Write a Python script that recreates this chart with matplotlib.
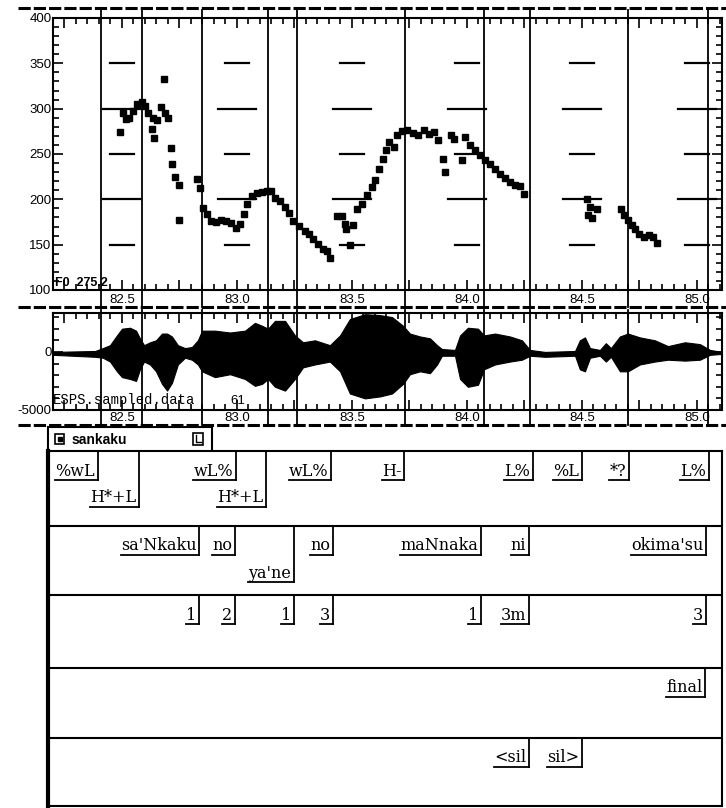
import numpy as np
import matplotlib.pyplot as plt
from matplotlib.patches import Rectangle

plt.rcParams['font.family'] = ['Liberation Sans', 'DejaVu Sans']

W, H = 726, 808

def box(x0, y0, x1, y1):
    # pixel box (top-left origin) -> figure fraction
    return [x0 / W, 1 - y1 / H, (x1 - x0) / W, (y1 - y0) / H]

# F0 track, seconds / Hz
f0_times = [82.491, 82.503, 82.517, 82.532, 82.546, 82.564, 82.586, 82.600, 82.614, 82.633,
            82.654, 82.668, 82.683, 82.687, 82.701, 82.629, 82.639, 82.712, 82.717, 82.730,
            82.749, 82.748, 82.827, 82.839, 82.853, 82.868, 82.887, 82.909, 82.929, 82.952,
            82.973, 82.996, 83.013, 83.030, 83.045, 83.064, 83.086, 83.107, 83.129, 83.147,
            83.165, 83.187, 83.209, 83.227, 83.245, 83.271, 83.296, 83.314, 83.332, 83.353,
            83.373, 83.390, 83.404,
            83.436, 83.455, 83.470, 83.474, 83.503, 83.491, 83.520, 83.542, 83.564, 83.586,
            83.600, 83.619, 83.636, 83.648, 83.662, 83.683, 83.694, 83.716, 83.740, 83.764,
            83.788, 83.813, 83.836, 83.857, 83.875, 83.897, 83.904, 83.929, 83.943, 83.977,
            83.991, 84.013, 84.035, 84.057, 84.078, 84.100, 84.122, 84.143, 84.165, 84.187,
            84.209, 84.230, 84.248,
            84.523, 84.535, 84.564, 84.527, 84.542,
            84.668, 84.683, 84.701, 84.716, 84.730, 84.749, 84.770, 84.793, 84.807, 84.825]
f0_vals = [274.6, 295.6, 288.2, 290.0, 297.4, 304.8, 307.7, 303.0, 295.6, 290.0,
           288.0, 301.8, 332.4, 295.6, 290.0, 277.2, 268.0, 256.3, 239.3, 225.0,
           215.8, 176.8, 222.0, 212.9, 190.8, 183.5, 176.1, 175.4, 176.8, 176.1,
           174.3, 168.8, 172.4, 183.5, 194.5, 203.7, 207.4, 208.1, 209.2, 209.2,
           201.8, 198.2, 191.5, 185.3, 176.1, 170.6, 165.1, 161.4, 155.9, 150.4,
           144.9, 143.0, 135.7,
           181.6, 181.6, 173.2, 167.0, 171.3, 149.3, 189.7, 195.2, 204.4, 213.6,
           221.0, 233.8, 244.9, 254.0, 263.2, 257.7, 270.6, 275.0, 276.1, 273.5,
           271.3, 276.1, 272.4, 274.3, 265.1, 244.9, 230.1, 270.6, 266.2, 243.0,
           268.8, 259.6, 254.0, 248.5, 243.0, 239.3, 233.8, 228.3, 223.5, 219.1,
           216.2, 214.7, 206.3,
           200.0, 191.5, 189.7, 182.4, 179.4,
           189.7, 182.4, 176.9, 171.3, 167.0, 162.1, 158.5, 161.0, 158.5, 152.2]

# waveform envelope, seconds / amplitude
wave_times = [82.200, 82.383, 82.417, 82.448, 82.478, 82.500, 82.535, 82.561, 82.578, 82.596,
              82.622, 82.648, 82.674, 82.696, 82.717, 82.743, 82.774, 82.804, 82.830, 82.848,
              82.904, 82.970, 83.035, 83.078, 83.109, 83.135, 83.165, 83.209, 83.252, 83.287,
              83.339, 83.404, 83.448, 83.491, 83.557, 83.622, 83.674, 83.722, 83.752, 83.796,
              83.839, 83.870, 83.891, 83.948, 83.970, 84.004, 84.048, 84.074, 84.122, 84.187,
              84.239, 84.274, 84.339, 84.470, 84.491, 84.513, 84.535, 84.578, 84.604, 84.626,
              84.665, 84.700, 84.752, 84.817, 84.874, 84.948, 85.013, 85.057, 85.109]
wave_top = [0, 80, 330, 580, 1420, 2000, 2080, 1830, 1170, 580,
            830, 1000, 1580, 1580, 1330, 580, 330, 420, 1000, 1830,
            1830, 1670, 1830, 2500, 2250, 2000, 2670, 2670, 1420, 830,
            1000, 580, 1420, 2830, 3250, 3170, 3000, 2250, 1580, 1330,
            1170, 580, 250, 170, 1420, 2080, 2000, 1420, 1580, 1330,
            1000, 170, 0, 80, 1000, 1250, 330, 170, 750, 330,
            1330, 1580, 1250, 1000, 500, 830, 670, 170, 0]
wave_bot = [-250, -420, -500, -830, -1670, -2170, -2330, -2500, -1500, -830,
            -1080, -1670, -2750, -3330, -2670, -1080, -500, -670, -1080, -1670,
            -2170, -1920, -2330, -2920, -2750, -2330, -3000, -3330, -2330, -1330,
            -1080, -830, -1670, -3580, -4000, -3830, -3580, -2750, -1920, -1670,
            -1830, -1080, -330, -330, -2330, -3000, -2830, -1500, -1080, -830,
            -670, -330, -420, -330, -1500, -1670, -500, -330, -830, -420,
            -1670, -1670, -1080, -830, -670, -750, -670, -250, -170]

marker_times = [82.409, 82.586, 82.847, 83.136, 83.260, 83.730, 84.074, 84.274, 84.701, 85.048]
time_ticks = [82.5, 83.0, 83.5, 84.0, 84.5, 85.0]
f0_ticks = [100, 150, 200, 250, 300, 350, 400]
ref_levels = [150, 200, 250, 300, 350]

# label tiers
tone_labels = ['%wL', 'H*+L', 'wL%', 'H*+L', 'wL%', 'H-', 'L%', '%L', '*?', 'L%']
tone_times = [82.394, 82.575, 82.994, 83.125, 83.409, 83.726, 84.287, 84.500, 84.704, 85.052]
tone_rows = [0, 1, 0, 1, 0, 0, 0, 0, 0, 0]
word_labels = ["sa'Nkaku", 'no', "ya'ne", 'no', 'maNnaka', 'ni', "okima'su"]
word_times = [82.835, 82.991, 83.248, 83.417, 84.061, 84.270, 85.039]
word_rows = [0, 0, 1, 0, 0, 0, 0]
break_labels = ['1', '2', '1', '3', '1', '3m', '3']
break_times = [82.835, 82.991, 83.248, 83.417, 84.061, 84.270, 85.039]
misc_labels = ['final']
misc_times = [85.035]
sil_labels = ['<sil', 'sil>']
sil_times = [84.270, 84.500]

T0, T1 = 82.2, 85.109

fig = plt.figure(figsize=(W / 100, H / 100), dpi=100)

# ---- F0 panel
ax = fig.add_axes(box(53, 18, 722, 290))
ax.set_xlim(T0, T1)
ax.set_ylim(100, 400)
for lev in ref_levels:
    half = 0.083 if lev in (200, 300) else 0.054
    for c in time_ticks:
        ax.plot([c - half, c + half], [lev, lev], color='k', lw=1.6)
ax.plot(f0_times, f0_vals, 's', ms=4.6, color='k', mec='k')
for t in marker_times:
    ax.axvline(t, ymin=-0.0625, ymax=1.03, color='k', lw=1.3, clip_on=False)
ax.set_yticks(f0_ticks)
ax.set_yticks(np.arange(100, 401, 10), minor=True)
ax.set_xticks(np.arange(82.25, 85.11, 0.25))
ax.set_xticks(np.arange(82.2, 85.11, 0.05), minor=True)
ax.tick_params(direction='in', which='both', top=True, right=True, labelbottom=False,
               width=1.2, labelsize=9.5, pad=1)
ax.tick_params(which='major', length=7)
ax.tick_params(which='minor', length=4)
for s in ax.spines.values():
    s.set_linewidth(1.5)
for t in time_ticks:
    ax.text(t, -0.037, f'{t:.1f}', transform=ax.get_xaxis_transform(),
            ha='center', va='center', fontsize=9.5)
ax.text(0.003, 0.005, 'F0  275.2', transform=ax.transAxes, ha='left', va='bottom',
        fontsize=9, weight='bold')

# ---- waveform panel
aw = fig.add_axes(box(53, 313, 722, 410))
aw.set_xlim(T0, T1)
aw.set_ylim(-5000, 3350)
aw.fill_between(wave_times, wave_bot, wave_top, color='k', lw=0.8)
for t in marker_times:
    aw.axvline(t, ymin=-0.155, ymax=1.03, color='k', lw=1.3, clip_on=False)
aw.set_yticks([-5000, 0])
aw.set_yticklabels(['-5000', '0'])
aw.set_yticks(np.arange(-5000, 3351, 1000), minor=True)
aw.set_xticks(np.arange(82.25, 85.11, 0.25))
aw.set_xticks(np.arange(82.2, 85.11, 0.05), minor=True)
aw.tick_params(direction='in', which='both', top=True, right=True, labelbottom=False,
               width=1.2, labelsize=9.5, pad=1)
aw.tick_params(which='major', length=7)
aw.tick_params(which='minor', length=4)
for s in aw.spines.values():
    s.set_linewidth(1.5)
for t in time_ticks:
    aw.text(t, -0.085, f'{t:.1f}', transform=aw.get_xaxis_transform(),
            ha='center', va='center', fontsize=9.5)
aw.text(0.0, 0.03, 'ESPS.sampled.data', transform=aw.transAxes, ha='left', va='bottom',
        family='Liberation Mono', fontsize=10)
aw.text(82.97, 0.03, '61', transform=aw.get_xaxis_transform(), ha='left', va='bottom',
        fontsize=9.5)

# ---- frame decorations in pixel coordinates
ov = fig.add_axes([0, 0, 1, 1])
ov.set_xlim(0, W)
ov.set_ylim(H, 0)
ov.axis('off')
for yy in (8, 307, 425):
    ov.plot([18, W], [yy, yy], color='k', lw=2.2, ls=(0, (4, 1)))
ov.add_patch(Rectangle((48, 427), 164, 25, fill=False, lw=1.5, ec='k'))
ov.add_patch(Rectangle((55, 434), 9, 10, fill=False, lw=1.2, ec='k'))
ov.plot([59.5], [439], 's', ms=3, color='k')
ov.text(72, 440, 'sankaku', ha='left', va='center', fontsize=10, weight='bold')
ov.add_patch(Rectangle((193, 433), 10, 12, fill=False, lw=1.2, ec='k'))
ov.plot([196, 196, 201], [435, 442, 442], color='k', lw=1)

# ---- label tiers (y in pixels from tier window top)
al = fig.add_axes(box(48, 451, 722, 806))
al.set_xlim(82.178, T1)
al.set_ylim(355, 0)
al.set_xticks([])
al.set_yticks([])
for s in al.spines.values():
    s.set_linewidth(1.5)
al.spines['left'].set_linewidth(3)
tier_tops = [0, 75, 144, 217, 287]
for yy in tier_tops[1:]:
    al.axhline(yy, color='k', lw=1.5)

tiers = [(tone_labels, tone_times, tone_rows),
         (word_labels, word_times, word_rows),
         (break_labels, break_times, [0] * len(break_labels)),
         (misc_labels, misc_times, [0]),
         (sil_labels, sil_times, [0, 0])]
placed = []
for top, (labs, times, rows) in zip(tier_tops, tiers):
    for lab, t, r in zip(labs, times, rows):
        yc = top + 20 + 27 * r
        txt = al.annotate(lab, (t, yc), xytext=(-2, 0), textcoords='offset points',
                          ha='right', va='center', family='DejaVu Serif', fontsize=11.5)
        placed.append((txt, t, top, yc))

fig.canvas.draw()
rend = fig.canvas.get_renderer()
inv = al.transData.inverted()
for txt, t, top, yc in placed:
    bb = txt.get_window_extent(rend)
    x0 = inv.transform((bb.x0, bb.y0))[0]
    yu = yc + 9
    al.plot([x0, t], [yu, yu], color='k', lw=1.3)
    al.plot([t, t], [top, yu], color='k', lw=1.3)

fig.savefig('out.png', dpi=100)
